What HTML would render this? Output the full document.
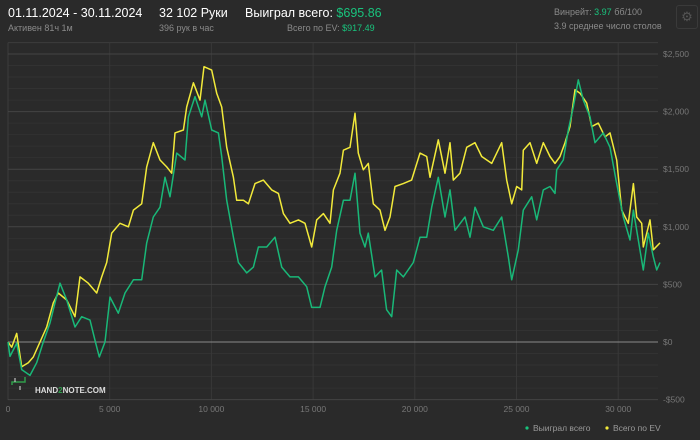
<!DOCTYPE html>
<html><head><meta charset="utf-8"><style>
body{margin:0;background:#2a2a2a;width:700px;height:440px;overflow:hidden;font-family:"Liberation Sans","Noto Sans CJK SC",sans-serif;}
.t{position:absolute;white-space:nowrap;}
</style></head><body>
<div style="position:relative;width:700px;height:440px;">
<div class="t" style="left:8px;top:6px;font-size:12.5px;color:#fff;">01.11.2024 - 30.11.2024</div>
<div class="t" style="left:8px;top:23px;font-size:9px;color:#8a8a8a;">Активен 81ч 1м</div>
<div class="t" style="left:159px;top:6px;font-size:12.5px;color:#fff;">32 102 Руки</div>
<div class="t" style="left:159px;top:23px;font-size:9px;color:#8a8a8a;">396 рук в час</div>
<div class="t" style="left:245px;top:6px;font-size:12.5px;color:#fff;">Выиграл всего: <span style="color:#19c37d">$695.86</span></div>
<div class="t" style="left:287px;top:23px;font-size:9px;color:#8a8a8a;">Всего по EV: <span style="color:#19c37d">$917.49</span></div>
<div class="t" style="left:554px;top:7px;font-size:9px;color:#8a8a8a;">Винрейт: <span style="color:#19c37d">3.97</span> бб/100</div>
<div class="t" style="left:554px;top:21px;font-size:9px;color:#8a8a8a;">3.9 среднее число столов</div>
<div style="position:absolute;left:676px;top:5px;width:20px;height:22px;border:1px solid #3a3a3a;border-radius:3px;color:#555;font-size:13px;text-align:center;line-height:22px;">⚙</div>
<svg id="chart" width="700" height="440" style="position:absolute;left:0;top:0;"></svg>
</div>
<script>
const wonHands=[0,98,426,672,1082,1410,1737,2065,2311,2557,2885,3294,3622,4032,4278,4491,4770,5015,5425,5753,6163,6572,6818,7146,7474,7720,7966,8293,8703,8867,9195,9523,9687,10014,10342,10506,10752,11080,11326,11735,12063,12309,12719,13128,13456,13866,14276,14685,14931,15341,15587,15915,16160,16488,16813,17059,17305,17551,17714,18042,18370,18616,18862,19108,19435,19927,20255,20583,20829,21156,21484,21730,21976,22468,22713,22959,23369,23861,24270,24598,24762,25090,25336,25746,25991,26319,26647,26893,26975,27303,27548,27794,28040,28286,28614,28860,29269,29597,29925,30253,30581,30745,30990,31236,31482,31728,31892,32056];
const wonValues=[0,-125,-10,-240,-290,-180,0,165,340,510,365,130,220,190,15,-130,0,390,250,425,540,540,860,1085,1170,1430,1260,1640,1580,1955,2130,1955,2100,1840,1815,1610,1230,910,690,600,650,825,825,910,650,565,565,480,300,300,480,650,970,1230,1230,1465,945,825,945,565,625,280,220,625,565,690,910,910,1170,1430,1085,1320,970,1085,910,1170,1000,970,1085,740,540,800,1145,1260,1060,1320,1350,1290,1495,1580,1840,2040,2275,2100,1955,1730,1815,1690,1375,1085,885,1145,885,625,945,740,625,690];
const evHands=[0,180,426,672,1000,1246,1573,1901,2229,2475,2885,3294,3540,3950,4360,4606,4851,5097,5507,5917,6163,6572,6818,7146,7474,7802,8047,8211,8621,8785,9113,9441,9638,10014,10260,10506,10752,11080,11244,11571,11817,12145,12555,12965,13293,13538,13866,14276,14604,14931,15177,15505,15833,15997,16324,16488,16813,17059,17223,17469,17714,17960,18288,18534,18780,19026,19435,19845,20255,20583,20747,21156,21484,21730,21894,22222,22550,22959,23287,23779,24270,24516,24762,25008,25254,25336,25664,25991,26319,26647,26893,27139,27385,27630,27876,28122,28450,28696,29024,29352,29597,29925,30171,30499,30745,30909,31155,31236,31564,31728,32056];
const evValues=[0,-45,75,-215,-180,-130,0,130,340,425,365,220,565,510,425,565,690,945,1030,1000,1145,1200,1520,1730,1580,1520,1465,1815,1840,2040,2250,2100,2390,2360,2160,2040,1690,1430,1230,1230,1200,1375,1405,1320,1290,1115,1030,1060,1030,825,1060,1115,1030,1320,1465,1665,1690,1985,1640,1495,1550,1200,1145,970,1085,1350,1375,1405,1640,1610,1430,1755,1465,1730,1405,1465,1690,1730,1610,1550,1730,1405,1200,1350,1320,1665,1730,1550,1730,1610,1550,1610,1730,1870,2190,2160,2075,1870,1900,1780,1815,1580,1145,1030,1375,1085,1030,825,1060,800,860];
const xTicks=[0,5000,10000,15000,20000,25000,30000];
const xTickLabels=["0","5 000","10 000","15 000","20 000","25 000","30 000"];
const yTicks=[-500,0,500,1000,1500,2000,2500];
const yTickLabels=["-$500","$0","$500","$1,000","$1,500","$2,000","$2,500"];

const NS="http://www.w3.org/2000/svg";
const svg=document.getElementById('chart');
const L=8,R=658,T=42.6,B=400;
const xs=h=>L+h*(101.7/5000);
const ys=v=>342-v*(57.6/500);
function mk(tag,attrs){const e=document.createElementNS(NS,tag);for(const k in attrs)e.setAttribute(k,attrs[k]);svg.appendChild(e);return e;}
// minor grid
for(let v=-400;v<=2600;v+=100){if(v%500===0)continue;const l=mk('line',{x1:L,x2:R,y1:ys(v),y2:ys(v),stroke:'#323232','stroke-width':1});

}
mk('line',{x1:L,x2:R,y1:T,y2:T,stroke:'#3c3c3c'});
xTicks.forEach((h,i)=>{
 if(i>0){const g=mk('line',{x1:xs(h),x2:xs(h),y1:T,y2:B,stroke:'#383838'});
 
 }
 const t=mk('text',{x:xs(h),y:412,fill:'#777','font-size':8.5,'text-anchor':'middle','font-family':'Liberation Sans, sans-serif'});
 t.textContent=xTickLabels[i];
 
 
});
mk('line',{x1:L,x2:L,y1:T,y2:B,stroke:'#3c3c3c'});
yTicks.forEach((v,i)=>{
 const g=mk('line',{x1:L,x2:R,y1:ys(v),y2:ys(v),stroke:v===0?'#8a8a8a':'#444','stroke-width':1});
 
 
 const t=mk('text',{x:663,y:ys(v)+3,fill:'#777','font-size':8.5,'font-family':'Liberation Sans, sans-serif'});
 t.textContent=yTickLabels[i];
 
 
});
// watermark
const wm=mk('g',{});


mk('path',{d:'M12 385 L12 382 L25 382 L25 377',stroke:'#2f9c4a','stroke-width':1.5,fill:'none'});
mk('line',{x1:15,x2:15,y1:378,y2:382,stroke:'#ddd','stroke-width':1});
mk('line',{x1:20,x2:20,y1:386,y2:390,stroke:'#ddd','stroke-width':1});
const wt=mk('text',{x:35,y:393,fill:'#ddd','font-size':8,'font-weight':'bold','font-family':'Liberation Sans, sans-serif'});
wt.innerHTML='HAND<tspan fill="#2f9c4a">2</tspan>NOTE.COM';


function line(hs,vs,color,name){
 const d=hs.map((h,i)=>(i?'L':'M')+xs(h).toFixed(1)+' '+ys(vs[i]).toFixed(1)).join(' ');
 const p=mk('path',{d:d,stroke:color,'stroke-width':1.5,fill:'none','stroke-linejoin':'round'});
 
 
}
line(evHands,evValues,'#f2ea3a','ev-line');
line(wonHands,wonValues,'#19b878','won-line');
// legend
[['#19c37d','Выиграл всего',527,'legend-won'],['#f2ea3a','Всего по EV',607,'legend-ev']].forEach(([c,txt,x,n])=>{
 mk('circle',{cx:x,cy:428,r:1.6,fill:c});
 const t=mk('text',{x:x+6,y:431,fill:'#999','font-size':8.5,'font-family':'Liberation Sans, sans-serif'});
 t.textContent=txt;
 
 
});
</script>
</body></html>
